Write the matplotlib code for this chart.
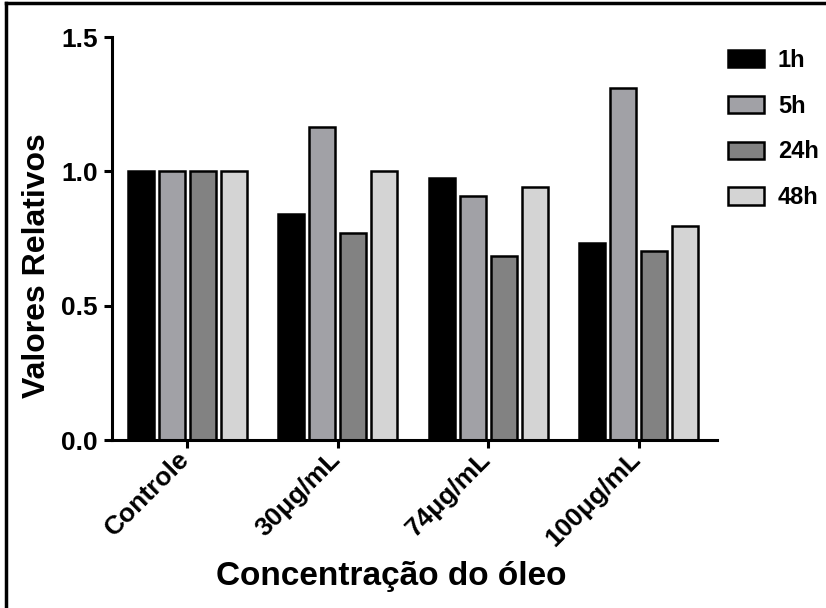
import matplotlib.pyplot as plt
import matplotlib.lines as mlines
import matplotlib.transforms as mtransforms
import numpy as np

plt.rcParams['font.family'] = ['Liberation Sans', 'DejaVu Sans']
plt.rcParams['font.weight'] = 'bold'

categories = ['Controle', '30\u03bcg/mL', '74\u03bcg/mL', '100\u03bcg/mL']
series_names = ['1h', '5h', '24h', '48h']
v_1h = [1.0, 0.84, 0.975, 0.735]
v_5h = [1.0, 1.166, 0.91, 1.31]
v_24h = [1.0, 0.77, 0.686, 0.705]
v_48h = [1.0, 1.0, 0.94, 0.795]
colors = ['#000000', '#a1a1a6', '#828282', '#d4d4d4']


def draw_chart():
    fig = plt.figure(figsize=(8.26, 6.08), dpi=100)
    ax = fig.add_axes([0.1356, 0.2763, 0.7325, 0.6628])

    x = np.arange(len(categories))
    pitch = 0.206
    width = 0.175
    all_vals = [v_1h, v_5h, v_24h, v_48h]
    for i, vals in enumerate(all_vals):
        ax.bar(x + (i - 1.5) * pitch, vals, width, color=colors[i],
               edgecolor='black', linewidth=1.8, label=series_names[i],
               zorder=2)

    ax.set_xlim(-0.5, 3.52)
    ax.set_ylim(0, 1.5)
    ax.set_yticks([0, 0.5, 1.0, 1.5])
    ax.set_yticklabels(['0.0', '0.5', '1.0', '1.5'])
    ax.set_xticks(x)
    ax.set_xticklabels(categories, rotation=45, ha='right', va='top',
                       rotation_mode='anchor')

    for side in ['top', 'right']:
        ax.spines[side].set_visible(False)
    for side in ['left', 'bottom']:
        ax.spines[side].set_linewidth(2.2)
    ax.tick_params(axis='both', width=2.2, length=6, labelsize=19, pad=4)

    # nudge the rotated labels a little left, like the original
    shift = mtransforms.ScaledTranslation(-10 / 100, 7 / 100, fig.dpi_scale_trans)
    for lab in ax.get_xticklabels():
        lab.set_transform(lab.get_transform() + shift)

    ax.set_ylabel('Valores Relativos', fontsize=23, fontweight='bold')
    ax.yaxis.set_label_coords(-0.1, 0.432)
    ax.set_xlabel('Concentração do óleo', fontsize=24, fontweight='bold')
    ax.xaxis.set_label_coords(0.461, -0.3)

    ax.legend(loc='upper left', bbox_to_anchor=(0.856, 0.955),
              bbox_transform=fig.transFigure, frameon=False, fontsize=17,
              handlelength=1.5, handleheight=0.75, labelspacing=0.97,
              handletextpad=0.6)

    # frame around the figure (left and top edges visible)
    fig.add_artist(mlines.Line2D([0.0068, 0.0068], [0.0, 0.995],
                                 color='black', linewidth=2.5))
    fig.add_artist(mlines.Line2D([0.0068, 1.0], [0.995, 0.995],
                                 color='black', linewidth=2.5))

    fig.savefig('out.png', dpi=100)


if __name__ == '__main__':
    draw_chart()
